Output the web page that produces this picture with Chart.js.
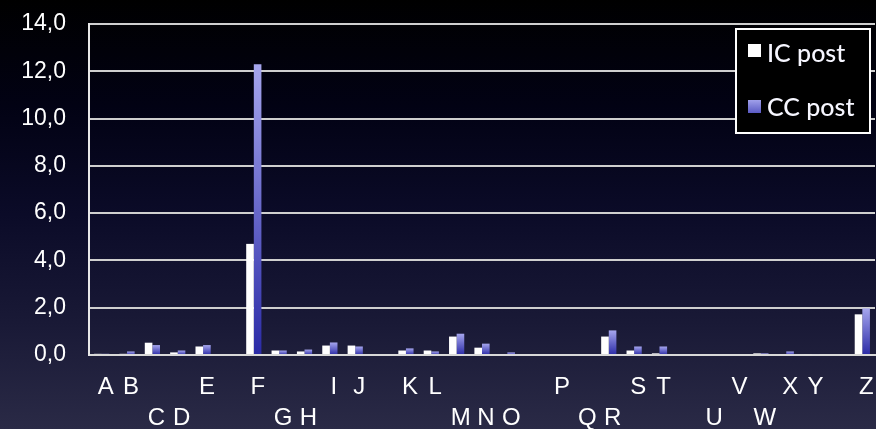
<!DOCTYPE html>
<html>
<head>
<meta charset="utf-8">
<script src="https://cdn.jsdelivr.net/npm/chart.js@4/dist/chart.umd.min.js"></script>
<style>
html,body{margin:0;padding:0;background:#000;overflow:hidden;}
#wrap{width:876px;height:429px;position:relative;}
</style>
</head>
<body>
<div id="wrap"><canvas id="c" width="876" height="429"></canvas></div>
<script>
// ---- data ----
const categories = ['A','B','C','D','E','','F','G','H','I','J','','K','L','M','N','O','','P','Q','R','S','T','','U','V','W','X','Y','','Z'];
const labelRows  = [1,1,2,2,1,1,1,2,2,1,1,1,1,1,2,2,2,1,1,2,2,1,1,1,2,1,2,1,1,1,1];
const seriesNames = ['IC post','CC post'];
const icPost = [0.05,0.05,0.52,0.11,0.36,null,4.70,0.19,0.15,0.40,0.40,null,0.19,0.19,0.78,0.31,0.04,null,0,0,0.78,0.19,0.07,null,0,0,0.07,0.04,0.04,null,1.72];
const ccPost = [0.05,0.15,0.42,0.19,0.42,null,12.30,0.19,0.23,0.53,0.36,null,0.28,0.15,0.90,0.48,0.11,null,0,0,1.04,0.36,0.36,null,0,0,0.07,0.15,0.04,null,1.97];
const yTickValues = [0,2,4,6,8,10,12,14];

// two-row staggered labels
const tickLabels = categories.map((c,i) => labelRows[i] === 1 ? [c,''] : ['',c]);

function blueGradient(context){
  const chart = context.chart;
  const sc = chart.scales && chart.scales.y;
  if (context.type !== 'data' || !sc || context.raw == null) return '#7d7dd8';
  const top = sc.getPixelForValue(context.raw);
  const bot = sc.getPixelForValue(0);
  if (!isFinite(top) || !isFinite(bot) || bot - top < 1) return '#8a8ae0';
  const g = chart.ctx.createLinearGradient(0, top, 0, bot);
  g.addColorStop(0, '#a6a6ee');
  g.addColorStop(1, '#2a2aa6');
  return g;
}

const bgPlugin = {
  id: 'bg',
  beforeDraw(chart){
    const {ctx, width, height} = chart;
    ctx.save();
    const g = ctx.createLinearGradient(0, 0, 0, height);
    g.addColorStop(0, '#000000');
    g.addColorStop(0.25, '#020214');
    g.addColorStop(0.5, '#0b0b28');
    g.addColorStop(0.75, '#191936');
    g.addColorStop(1, '#2a2a46');
    ctx.fillStyle = g;
    ctx.fillRect(0, 0, width, height);
    ctx.restore();
  }
};

const legendPlugin = {
  id: 'boxLegend',
  afterDraw(chart){
    const ctx = chart.ctx;
    ctx.save();
    ctx.fillStyle = '#000000';
    ctx.fillRect(736, 29, 134, 104);
    ctx.strokeStyle = '#ffffff';
    ctx.lineWidth = 2;
    ctx.strokeRect(736, 29, 134, 104);
    const ds = chart.data.datasets;
    const rows = [{sy:44, ty:62}, {sy:100, ty:116}];
    ctx.font = '500 25px Lato, "Open Sans", sans-serif';
    ctx.textBaseline = 'alphabetic';
    ctx.textAlign = 'left';
    ds.forEach((d,i) => {
      const r = rows[i];
      if (i === 0) {
        ctx.fillStyle = '#ffffff';
      } else {
        const g = ctx.createLinearGradient(0, r.sy, 0, r.sy + 13);
        g.addColorStop(0, '#a0a0ea');
        g.addColorStop(1, '#5a5ac4');
        ctx.fillStyle = g;
      }
      ctx.fillRect(748, r.sy, 13, 13);
      ctx.fillStyle = '#f6f6ff';
      ctx.fillText(d.label, 767, r.ty);
    });
    ctx.restore();
  }
};

new Chart(document.getElementById('c'), {
  type: 'bar',
  data: {
    labels: tickLabels,
    datasets: [
      { label: seriesNames[0], data: icPost, backgroundColor: '#ffffff', borderWidth: 0,
        categoryPercentage: 0.6, barPercentage: 1.0 },
      { label: seriesNames[1], data: ccPost, backgroundColor: blueGradient, borderWidth: 0,
        categoryPercentage: 0.6, barPercentage: 1.0 }
    ]
  },
  options: {
    responsive: false,
    animation: false,
    devicePixelRatio: 1,
    layout: { padding: { left: 0, right: 1, top: 24, bottom: 0 } },
    plugins: {
      legend: { display: false },
      tooltip: { enabled: false }
    },
    scales: {
      x: {
        grid: { display: false, drawTicks: false },
        border: { display: true, color: '#d8d8d8', width: 2 },
        ticks: {
          color: '#ffffff',
          font: { family: '"Liberation Sans", Arial, sans-serif', size: 24, lineHeight: 1.3 },
          padding: 17,
          labelOffset: 4,
          autoSkip: false,
          maxRotation: 0,
          minRotation: 0
        },
        afterFit(scale){ scale.height = 74; scale.paddingLeft = 0; scale.paddingRight = 0; }
      },
      y: {
        min: 0, max: 14,
        afterBuildTicks(scale){ scale.ticks = yTickValues.map(v => ({value: v})); },
        grid: { color: '#cfcfcf', lineWidth: 2, drawTicks: false },
        border: { display: true, color: '#e8e8e8', width: 2 },
        ticks: {
          color: '#ffffff',
          font: { family: '"Liberation Sans", Arial, sans-serif', size: 23 },
          padding: 23,
          callback: v => v.toFixed(1).replace('.', ',')
        },
        afterFit(scale){ scale.width = 89; scale.paddingTop = 0; scale.paddingBottom = 0; }
      }
    }
  },
  plugins: [bgPlugin, legendPlugin]
});
</script>
</body>
</html>
